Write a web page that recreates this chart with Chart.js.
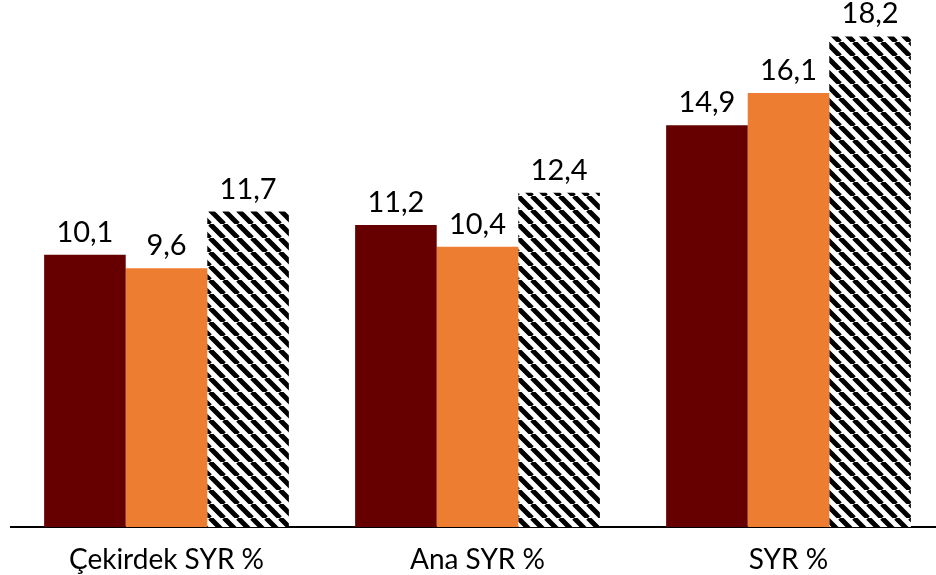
<!DOCTYPE html>
<html><head><meta charset="utf-8">
<script src="https://cdn.jsdelivr.net/npm/chart.js@4"></script>
<style>html,body{margin:0;padding:0;overflow:hidden;background:#fff}#wrap{width:936px;height:575px;overflow:hidden}</style>
</head><body><div id="wrap"><canvas id="c" width="944" height="575" style="width:944px;height:575px"></canvas></div>
<script>
const categories = ["Çekirdek SYR %", "Ana SYR %", "SYR %"];
const series1 = [10.1, 11.2, 14.9];
const series2 = [9.6, 10.4, 16.1];
const series3 = [11.7, 12.4, 18.2];
const FONT = "Lato";

function hatch(){
  const s = 14, c = document.createElement('canvas');
  c.width = s; c.height = s;
  const g = c.getContext('2d');
  g.fillStyle = '#fff'; g.fillRect(0,0,s,s);
  g.strokeStyle = '#000'; g.lineWidth = 5;
  g.beginPath();
  for (const o of [-s, 0, s]) { g.moveTo(o, 0); g.lineTo(o + s, s); }
  g.stroke();
  return g.createPattern(c, 'repeat');
}

const labelPlugin = {
  id: 'lbl',
  afterDatasetsDraw(chart){
    const ctx = chart.ctx;
    ctx.save();
    ctx.font = '29px ' + FONT;
    ctx.fillStyle = '#000';
    ctx.textAlign = 'center';
    ctx.textBaseline = 'alphabetic';
    chart.data.datasets.forEach((ds, i) => {
      chart.getDatasetMeta(i).data.forEach((bar, j) => {
        ctx.fillText(ds.data[j].toFixed(1).replace('.', ','), bar.x, bar.y - 13);
      });
    });
    ctx.restore();
  }
};

new Chart(document.getElementById('c'), {
  type: 'bar',
  data: {
    labels: categories,
    datasets: [
      {data: series1, backgroundColor: '#660000'},
      {data: series2, backgroundColor: '#ED7D31'},
      {data: series3, backgroundColor: hatch()}
    ]
  },
  options: {
    responsive: false, animation: false,
    layout: {padding: {left: 11, right: 0, top: 0, bottom: 0}},
    categoryPercentage: 0.787, barPercentage: 1,
    plugins: {legend: {display: false}, tooltip: {enabled: false}},
    scales: {
      x: {
        grid: {display: false},
        border: {display: true, color: '#000', width: 2},
        ticks: {color: '#000', font: {family: FONT, size: 28}, padding: 8, maxRotation: 0},
        afterFit(s){ s.height = 48; }
      },
      y: {display: false, min: 0, max: 19.55}
    }
  },
  plugins: [labelPlugin]
});
</script></body></html>
